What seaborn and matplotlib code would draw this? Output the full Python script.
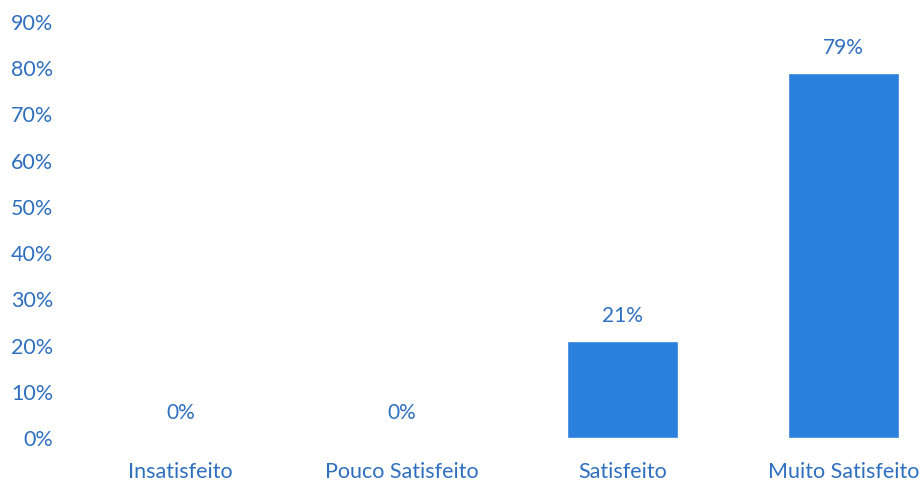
import numpy as np
import pandas as pd
import matplotlib.pyplot as plt
import seaborn as sns

categories = ["Insatisfeito", "Pouco Satisfeito", "Satisfeito", "Muito Satisfeito"]
values = [0, 0, 21, 79]
yticks = [0, 10, 20, 30, 40, 50, 60, 70, 80, 90]

bar_color = "#2a80dc"
text_color = "#2f6fbf"

sns.set_theme(style="white")
plt.rcParams["font.family"] = ["Lato", "DejaVu Sans"]

df = pd.DataFrame({"categoria": categories, "pct": values})

fig = plt.figure(figsize=(9.23, 4.86), dpi=100)
ax = fig.add_axes([70 / 923, 48 / 486, 853 / 923, 416 / 486])

sns.barplot(data=df, x="categoria", y="pct", color=bar_color, width=0.5,
            saturation=1, ax=ax)

ax.set_ylim(0, 90)
ax.set_xlim(-0.5, 3.36)
ax.set_yticks(yticks)
ax.set_yticklabels([f"{t}%" for t in yticks])
ax.set_xlabel("")
ax.set_ylabel("")
for s in ax.spines.values():
    s.set_visible(False)
ax.tick_params(axis="both", length=0, labelsize=15.5, colors=text_color)
ax.tick_params(axis="y", pad=12)
ax.tick_params(axis="x", pad=17)

for i, v in enumerate(values):
    ax.annotate(f"{v}%", (i, v), xytext=(0, 18), textcoords="offset points",
                ha="center", va="center", fontsize=15, color=text_color)

fig.savefig("out.png", dpi=100)
